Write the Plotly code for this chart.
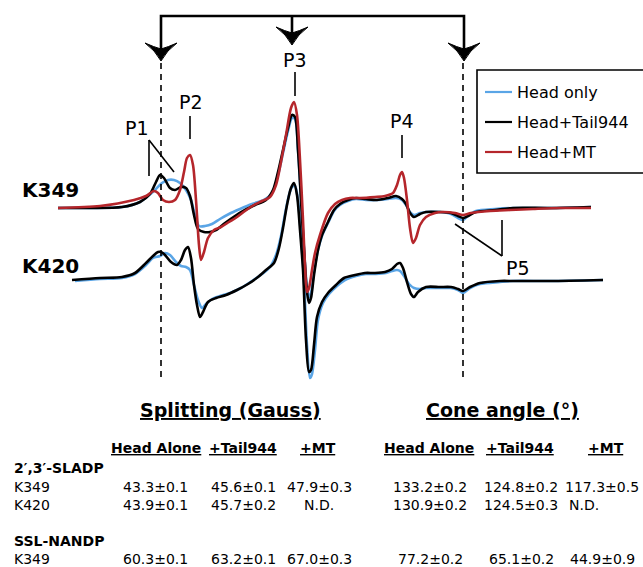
import plotly.graph_objects as go

# ---------------- data (field position, signal position) ----------------
k349_black_x = [58, 90, 122, 140, 150, 156, 160, 164, 170, 175, 181, 186, 190, 194, 198, 204, 210, 216, 225, 235,
                245, 255, 266, 273, 278, 283, 288, 292, 295, 298, 301, 304, 307, 309, 311, 314, 318, 322, 328, 334,
                340, 348, 356, 366, 377, 388, 396, 402, 406, 410, 414, 420, 426, 440, 451, 458, 463, 468, 476, 495,
                513, 550, 591]
k349_black_y = [208, 208, 207, 202, 194, 182, 175, 178, 188, 190, 187, 188, 196, 215, 229, 232, 232, 230, 223, 216,
                210, 205, 200, 190, 172, 150, 128, 115, 117, 150, 200, 250, 292, 303, 298, 275, 250, 235, 222, 210,
                204, 200, 198, 199, 200, 198, 196, 199, 204, 213, 217, 214, 212, 212, 213, 216, 218, 216, 212, 210,
                208, 208, 207]

k349_blue_x = [58, 90, 122, 140, 148, 155, 162, 168, 174, 180, 186, 191, 195, 199, 205, 212, 220, 229, 240, 252,
               264, 272, 278, 283, 288, 292, 295, 298, 301, 304, 307, 309, 311, 314, 318, 322, 328, 334, 340, 348,
               356, 366, 377, 388, 396, 402, 406, 410, 414, 420, 426, 440, 451, 458, 463, 468, 476, 495, 513, 550, 591]
k349_blue_y = [208, 208, 207, 202, 196, 190, 183, 180, 180, 183, 190, 200, 215, 226, 226, 224, 219, 214, 209, 204,
               200, 193, 175, 153, 131, 118, 119, 150, 198, 248, 288, 297, 293, 272, 250, 236, 223, 211,
               205, 201, 199, 200, 200, 199, 198, 200, 205, 212, 215, 213, 212, 212, 214, 218, 220, 216, 211, 209,
               208, 208, 207]

k349_red_x = [58, 100, 134, 146, 154, 158, 163, 169, 175, 180, 184, 187, 190, 193, 196, 199, 201, 204, 208, 214,
              221, 229, 237, 245, 254, 262, 270, 276, 281, 286, 291, 294, 297, 300, 303, 305, 307, 309, 312, 315,
              320, 328, 335, 342, 350, 360, 375, 385, 393, 397, 400, 402, 404, 407, 410, 413, 416, 420, 426, 435,
              443, 455, 463, 471, 490, 510, 533, 560, 591]
k349_red_y = [208, 206, 200, 196, 191, 193, 200, 202, 200, 190, 172, 158, 155, 165, 200, 245, 260, 252, 238, 230,
              227, 222, 217, 211, 205, 201, 197, 185, 162, 135, 108, 102, 115, 160, 220, 265, 292, 288, 270, 253,
              235, 213, 204, 200, 198, 198, 197, 196, 193, 185, 175, 172, 178, 200, 228, 243, 238, 225, 217, 213,
              212, 213, 215, 213, 211, 210, 209, 208, 208]

k420_black_x = [72, 100, 122, 135, 146, 153, 158, 161, 165, 171, 177, 181, 185, 188, 191, 194, 197, 200, 203, 208,
                216, 226, 237, 248, 258, 266, 274, 279, 283, 287, 291, 294, 297, 300, 303, 306, 309, 311, 314, 317,
                322, 328, 336, 344, 355, 365, 375, 385, 392, 397, 400, 403, 407, 411, 414, 418, 426, 440, 451, 458,
                463, 470, 480, 500, 513, 550, 603]
k420_black_y = [280, 278, 277, 273, 263, 256, 252, 252, 255, 262, 265, 260, 250, 247, 258, 285, 305, 317, 312, 302,
                298, 295, 290, 284, 277, 270, 263, 248, 228, 205, 188, 183, 195, 230, 270, 340, 372, 370, 345, 317,
                302, 293, 285, 278, 275, 273, 273, 272, 269, 264, 263, 268, 282, 294, 297, 292, 287, 287, 287, 289,
                291, 287, 283, 281, 281, 281, 280]

k420_blue_x = [75, 100, 122, 135, 146, 153, 160, 165, 170, 176, 181, 186, 190, 194, 198, 202, 206, 212, 220, 230,
               241, 252, 262, 270, 276, 281, 285, 289, 292, 295, 298, 301, 304, 307, 310, 312, 315, 318, 323, 329,
               337, 345, 356, 366, 376, 386, 392, 397, 400, 404, 409, 414, 420, 426, 440, 451, 458, 463, 470, 480,
               500, 513, 550, 603]
k420_blue_y = [281, 279, 278, 274, 265, 258, 256, 253, 255, 262, 266, 267, 270, 285, 300, 308, 304, 299, 296, 293,
               288, 281, 274, 267, 255, 236, 214, 195, 187, 186, 200, 236, 280, 345, 378, 374, 350, 320, 303, 294,
               286, 280, 276, 274, 274, 273, 271, 270, 271, 276, 284, 288, 289, 288, 288, 288, 290, 293, 288, 284,
               282, 281, 281, 280]

legend_names = ["Head only", "Head+Tail944", "Head+MT"]
colors = {"Head only": "#5AA5E6", "Head+Tail944": "#000000", "Head+MT": "#B5262B"}

row_labels = ["K349", "K420"]
section_titles = ["Splitting (Gauss)", "Cone angle (°)"]
col_headers = ["Head Alone", "+Tail944", "+MT", "Head Alone", "+Tail944", "+MT"]
group_names = ["2′,3′-SLADP", "SSL-NANDP"]
sladp_k349 = ["43.3±0.1", "45.6±0.1", "47.9±0.3", "133.2±0.2", "124.8±0.2", "117.3±0.5"]
sladp_k420 = ["43.9±0.1", "45.7±0.2", "N.D.", "130.9±0.2", "124.5±0.3", "N.D."]
nandp_k349 = ["60.3±0.1", "63.2±0.1", "67.0±0.3", "77.2±0.2", "65.1±0.2", "44.9±0.9"]

peak_labels = ["P1", "P2", "P3", "P4", "P5"]

FONT = "DejaVu Sans"

fig = go.Figure()

series = [
    (k349_blue_x, k349_blue_y, "Head only"),
    (k420_blue_x, k420_blue_y, "Head only"),
    (k349_black_x, k349_black_y, "Head+Tail944"),
    (k420_black_x, k420_black_y, "Head+Tail944"),
    (k349_red_x, k349_red_y, "Head+MT"),
]
for xs, ys, name in series:
    fig.add_trace(go.Scatter(x=xs, y=ys, mode="lines", name=name, showlegend=False,
                             line=dict(color=colors[name], width=2.6, shape="spline", smoothing=0.8),
                             hoverinfo="skip"))

shapes = []
# bracket with arrows
shapes.append(dict(type="path", path="M161,58 L161,16 L464,16 L464,58", line=dict(color="black", width=2.6)))
shapes.append(dict(type="line", x0=292, x1=292, y0=16, y1=40, line=dict(color="black", width=2.6)))


def arrow(x, ty):
    return dict(type="path",
                path=(f"M{x},{ty} Q{x-6},{ty-11} {x-16},{ty-18} Q{x-7},{ty-14} {x},{ty-12} "
                      f"Q{x+7},{ty-14} {x+16},{ty-18} Q{x+6},{ty-11} {x},{ty} Z"),
                fillcolor="black", line=dict(color="black", width=1))


shapes += [arrow(161, 61), arrow(292, 45), arrow(464, 61)]
# dashed guide lines
for xv in (161, 463):
    shapes.append(dict(type="line", x0=xv, x1=xv, y0=63, y1=382,
                       line=dict(color="black", width=1.6, dash="6px,5px")))
# peak markers
thin = dict(color="black", width=1.6)
shapes.append(dict(type="line", x0=149, x1=149, y0=140, y1=176, line=thin))
shapes.append(dict(type="line", x0=149, x1=174, y0=140, y1=172, line=thin))
shapes.append(dict(type="line", x0=190, x1=190, y0=116, y1=139, line=thin))
shapes.append(dict(type="line", x0=295, x1=295, y0=72, y1=96, line=thin))
shapes.append(dict(type="line", x0=402, x1=402, y0=135, y1=158, line=thin))
shapes.append(dict(type="line", x0=455, x1=502, y0=224, y1=256, line=thin))
shapes.append(dict(type="line", x0=502, x1=502, y0=220, y1=256, line=thin))
# legend box
shapes.append(dict(type="rect", x0=477, x1=650, y0=70, y1=173, line=dict(color="black", width=1.6),
                   fillcolor="white"))
leg_y = [92, 122, 152]
for name, yy in zip(legend_names, leg_y):
    shapes.append(dict(type="line", x0=485, x1=512, y0=yy, y1=yy, line=dict(color=colors[name], width=2.2)))

ann = []


def txt(x, y, s, size, xanchor="center", bold=False, underline=False):
    t = s
    if bold:
        t = f"<b>{t}</b>"
    if underline:
        t = f"<u>{t}</u>"
    ann.append(dict(x=x, y=y, text=t, showarrow=False, xanchor=xanchor, yanchor="middle",
                    font=dict(family=FONT, size=size, color="black")))


for name, yy in zip(legend_names, leg_y):
    txt(515, yy, name, 16, xanchor="left")

# peak labels
txt(137, 128, peak_labels[0], 19)
txt(191, 102, peak_labels[1], 19)
txt(295, 60, peak_labels[2], 19)
txt(402, 121, peak_labels[3], 19)
txt(518, 268, peak_labels[4], 19)

# sample labels
txt(20, 190, row_labels[0], 20, xanchor="left", bold=True)
txt(20, 266, row_labels[1], 20, xanchor="left", bold=True)

# table
txt(230, 410, section_titles[0], 19, bold=True, underline=True)
txt(502, 410, section_titles[1], 19, bold=True, underline=True)
col_x = [156, 243, 318, 429, 520, 606]
for cx, h in zip(col_x, col_headers):
    txt(cx, 448, h, 14, bold=True, underline=True)
txt(12, 468, group_names[0], 14, xanchor="left", bold=True)
txt(12, 487, row_labels[0], 14, xanchor="left")
txt(12, 505, row_labels[1], 14, xanchor="left")
txt(12, 541, group_names[1], 14, xanchor="left", bold=True)
txt(12, 559, row_labels[0], 14, xanchor="left")
val_x = [155, 243, 319, 430, 521, 602]
for row, yy in ((sladp_k349, 487), (sladp_k420, 505), (nandp_k349, 559)):
    for i, (cx, v) in enumerate(zip(val_x, row)):
        if v == "N.D." and i == 5:
            txt(567, yy, v, 14, xanchor="left")
        else:
            txt(cx, yy, v, 14)

fig.update_layout(
    width=643, height=567,
    margin=dict(l=0, r=0, t=0, b=0, autoexpand=False),
    paper_bgcolor="white", plot_bgcolor="white",
    xaxis=dict(range=[0, 643], visible=False, fixedrange=True),
    yaxis=dict(range=[567, 0], visible=False, fixedrange=True),
    shapes=shapes, annotations=ann, showlegend=False,
)

fig.write_html("out.html", config={"displayModeBar": False},
               post_script="document.body.style.margin='0';document.body.style.overflow='hidden';")
